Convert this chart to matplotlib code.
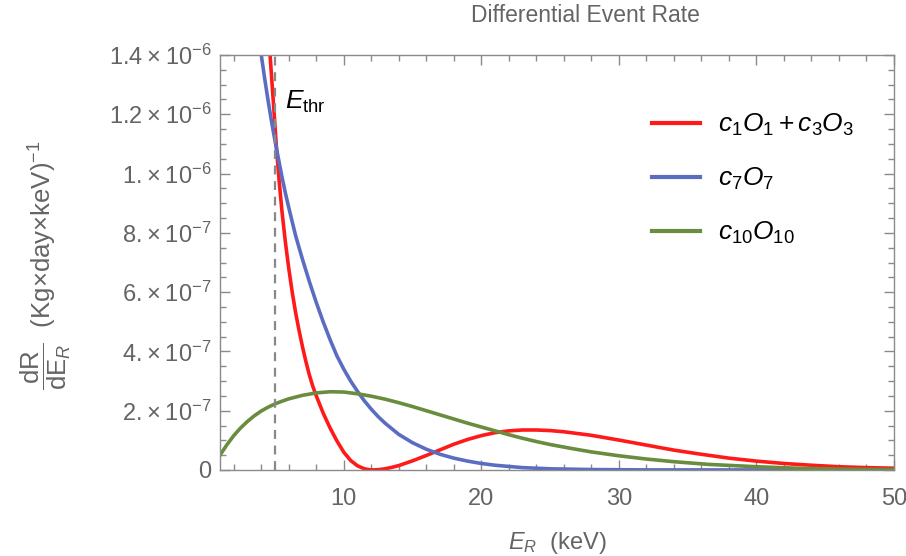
import numpy as np
import matplotlib
matplotlib.use("Agg")
import matplotlib.pyplot as plt
from matplotlib.ticker import MultipleLocator

plt.rcParams['font.family'] = ['Liberation Sans', 'DejaVu Sans']
plt.rcParams['mathtext.fontset'] = 'custom'
plt.rcParams['mathtext.rm'] = 'Liberation Sans'
plt.rcParams['mathtext.it'] = 'Liberation Sans:italic'
plt.rcParams['mathtext.bf'] = 'Liberation Sans:bold'

# recoil energy (keV) and rate (units of 1e-6 /(kg day keV))
e_red = [4.55, 4.64, 4.88, 5.1, 5.3, 5.5, 5.75, 6.0, 6.25, 6.5, 6.75, 7.0, 7.25, 7.5, 7.75,
         8.0, 8.5, 9.0, 9.5, 10.0, 10.5, 11.0, 11.5, 12.0, 12.5, 13.0, 13.5, 14.0, 15.0,
         16.0, 17.0, 18.0, 19.0, 20.0, 21.0, 22.0, 23.0, 24.0, 25.0, 26.0, 27.0, 28.0,
         29.0, 30.0, 32.0, 34.0, 36.0, 38.0, 40.0, 42.0, 44.0, 46.0, 48.0, 50.0]
r_red = [1.46, 1.40, 1.24, 1.09, 0.975, 0.875, 0.77, 0.68, 0.60, 0.53, 0.47, 0.415, 0.365, 0.32, 0.282,
         0.25, 0.192, 0.142, 0.098, 0.06, 0.032, 0.014, 0.004, 0.0, 0.001, 0.004, 0.009, 0.015, 0.031,
         0.049, 0.068, 0.087, 0.103, 0.116, 0.126, 0.132, 0.135, 0.135, 0.133, 0.129, 0.123, 0.117,
         0.109, 0.101, 0.084, 0.067, 0.053, 0.040, 0.030, 0.022, 0.016, 0.011, 0.008, 0.006]

e_blue = [3.9, 4.0, 4.25, 4.5, 4.75, 5.0, 5.25, 5.5, 5.75, 6.0, 6.5, 7.0, 7.5, 8.0, 8.5, 9.0,
          9.5, 10.0, 10.5, 11.0, 11.5, 12.0, 12.5, 13.0, 14.0, 15.0, 16.0, 17.0, 18.0, 19.0,
          20.0, 21.0, 22.0, 23.0, 25.0, 28.0, 32.0, 50.0]
r_blue = [1.45, 1.40, 1.32, 1.245, 1.175, 1.11, 1.05, 0.99, 0.935, 0.885, 0.79, 0.71, 0.635, 0.565,
          0.50, 0.44, 0.385, 0.34, 0.30, 0.265, 0.233, 0.205, 0.18, 0.158, 0.12, 0.092, 0.07, 0.053,
          0.04, 0.03, 0.022, 0.016, 0.012, 0.008, 0.004, 0.0015, 0.0003, 0.0]

e_green = [1.0, 1.5, 2.0, 2.5, 3.0, 3.5, 4.0, 4.5, 5.0, 5.5, 6.0, 7.0, 8.0, 9.0, 10.0, 11.0,
           12.0, 13.0, 14.0, 15.0, 16.0, 17.0, 18.0, 19.0, 20.0, 21.0, 22.0, 23.0, 24.0, 25.0,
           26.5, 28.0, 30.0, 32.0, 34.0, 36.5, 40.0, 43.0, 46.0, 50.0]
r_green = [0.05, 0.085, 0.116, 0.142, 0.164, 0.183, 0.199, 0.212, 0.223, 0.232, 0.240, 0.252, 0.260,
           0.264, 0.263, 0.257, 0.249, 0.239, 0.227, 0.214, 0.200, 0.186, 0.172, 0.158, 0.145, 0.132,
           0.119, 0.107, 0.096, 0.086, 0.073, 0.061, 0.048, 0.037, 0.028, 0.019, 0.011, 0.006, 0.003,
           0.0015]

labels = [r'$c_1O_1 + c_3O_3$', r'$c_7O_7$', r'$c_{10}O_{10}$']
colors = ['#ff1a1a', '#5b6dc2', '#6a8c3e']
e_thr = 5.0

y_ticks = [0, 0.2, 0.4, 0.6, 0.8, 1.0, 1.2, 1.4]
y_ticklabels = ['0', '2.\u2009×\u200910$^{-7}$', '4.\u2009×\u200910$^{-7}$', '6.\u2009×\u200910$^{-7}$',
                '8.\u2009×\u200910$^{-7}$', '1.\u2009×\u200910$^{-6}$', '1.2\u2009×\u200910$^{-6}$',
                '1.4\u2009×\u200910$^{-6}$']
x_ticks = [10, 20, 30, 40, 50]

gray = '#646464'

fig = plt.figure(figsize=(9.06, 5.56), dpi=100)
ax = fig.add_axes([220/906, 1-470/556, (894-220)/906, (470-55)/556])

for e, r, c, lab in zip([e_red, e_blue, e_green], [r_red, r_blue, r_green], colors, labels):
    ax.plot(e, r, color=c, lw=2.6, label=lab)
ax.axvline(e_thr, color='#888888', lw=1.6, ls=(0, (4, 3)))

ax.set_xlim(1, 50)
ax.set_ylim(0, 1.4)
ax.set_xticks(x_ticks)
ax.set_xticklabels([str(t) for t in x_ticks])
ax.xaxis.set_minor_locator(MultipleLocator(2))
ax.set_yticks(y_ticks)
ax.set_yticklabels(y_ticklabels)
ax.yaxis.set_minor_locator(MultipleLocator(0.05))

for s in ax.spines.values():
    s.set_color('#8a8a8a')
    s.set_linewidth(1.0)
ax.tick_params(which='both', direction='in', top=True, right=True, color='#8a8a8a',
               labelcolor=gray, labelsize=17, width=1.0)
ax.tick_params(which='major', length=7)
ax.tick_params(which='minor', length=4)
ax.tick_params(axis='x', which='major', pad=13)
ax.tick_params(axis='y', which='major', pad=6)

ax.text(5.7, 1.22, r'$E_{\mathrm{thr}}$', fontsize=19, color='black', ha='left', va='baseline')

fig.text(585/906, 1-16/556, 'Differential Event Rate', fontsize=16.5, color=gray,
         ha='center', va='center')
fig.text(557/906, 1-543/556, r'$E_R$  (keV)', fontsize=17, color=gray, ha='center', va='center')
fig.text(46/906, 1-265/556, r'$\dfrac{\mathrm{dR}}{\mathrm{dE}_R}$  (Kg×day×keV)$^{-1}$',
         fontsize=18.5, color=gray, rotation=90, ha='center', va='center')

leg = ax.legend(loc='upper left', bbox_to_anchor=(652/906, 1-112/556), bbox_transform=fig.transFigure,
                frameon=False, fontsize=19, handlelength=1.82, handletextpad=0.68,
                labelspacing=1.05, borderpad=0, borderaxespad=0)
for line in leg.get_lines():
    line.set_linewidth(3.0)

fig.savefig('out.png', dpi=100)
